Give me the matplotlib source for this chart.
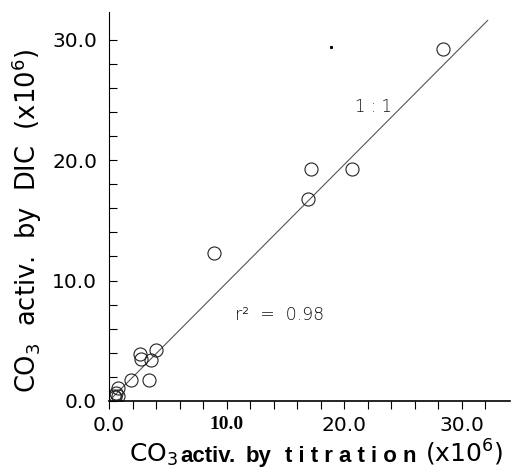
import matplotlib.pyplot as plt
import matplotlib.transforms as mtransforms
import numpy as np

# CO3 activity: titration (x) vs DIC (y), units x10^6
titration = [28.4, 17.2, 20.7, 16.9, 8.95, 2.6, 2.7, 4.0, 3.6, 1.9, 3.4, 0.8, 0.4, 0.6, 0.75, 0.5]
dic = [29.2, 19.3, 19.3, 16.8, 12.25, 3.9, 3.5, 4.2, 3.4, 1.75, 1.75, 1.1, 0.4, 0.7, 0.45, 0.3]

# 1:1 line as drawn
line_x = [0.0, 32.2]
line_y = [0.0, 31.6]

xticks = [0, 10, 20, 30]
yticks = [0, 10, 20, 30]
tick_labels = ["0.0", "10.0", "20.0", "30.0"]

W, H = 514, 467
plt.rcParams['font.family'] = ['DejaVu Sans', 'Noto Sans']

fig = plt.figure(figsize=(W / 100, H / 100), dpi=100)
ax = fig.add_axes([109 / W, 1 - 401 / H, 401 / W, 389 / H])

ax.plot(line_x, line_y, color='#555555', lw=0.8)
ax.plot(titration, dic, 'o', mfc='none', mec='#222222', ms=9.4, mew=0.8)
# stray speck in the original
ax.plot([18.9], [29.4], 's', color='black', ms=1.2)

ax.text(22.5, 24.4, "1 : 1", fontsize=12, fontweight='light', ha='center', va='center', color='#111111')
ax.text(10.7, 7.1, "r²  =  0.98", fontsize=12.5, fontweight='light', ha='left', va='center', color='#111111')

ax.set_xlim(0.25, 34.1)
ax.set_ylim(0, 32.3)

for s in ['top', 'right']:
    ax.spines[s].set_visible(False)
ax.spines['left'].set_linewidth(0.8)
ax.spines['bottom'].set_linewidth(1.2)

ax.set_xticks(xticks)
ax.set_yticks(yticks)
ax.set_xticks(np.arange(2, 34, 2), minor=True)
ax.set_yticks(np.arange(2, 32, 2), minor=True)
ax.set_xticklabels(tick_labels, fontsize=14.5)
ax.set_yticklabels(tick_labels, fontsize=14.5)
# the original has "10.0" set in a bold serif face
ax.get_xticklabels()[1].set_fontfamily('Liberation Serif')
ax.get_xticklabels()[1].set_fontweight('bold')
ax.get_xticklabels()[1].set_fontsize(14)

ax.tick_params(axis='y', which='both', direction='in', length=6, width=0.8, pad=8.5)
ax.tick_params(axis='x', which='both', direction='out', length=6, width=0.8, pad=5)

# y label
fig.text(27 / W, 1 - 221 / H, r"CO$_3$  activ.  by  DIC  (x10$^6$)", rotation=90,
         fontsize=18.5, ha='center', va='center')

# x label, pieces placed like the original (bold words letter-spaced)
ident = mtransforms.IdentityTransform()
base = H - 462
bold = dict(fontsize=16, fontweight='bold', family=['Liberation Sans'],
            transform=ident, va='baseline', ha='left')
fig.text(129, base, r"CO$_3$", transform=ident, va='baseline', ha='left', fontsize=18)
fig.text(180, base, "activ.", **bold)
fig.text(246, base, "by", **bold)
fig.text(285, base, "t i t r a t i o n", **bold)
fig.text(425, base, r"(x10$^6$)", transform=ident, va='baseline', ha='left', fontsize=18)

plt.savefig("out.png", dpi=100)
